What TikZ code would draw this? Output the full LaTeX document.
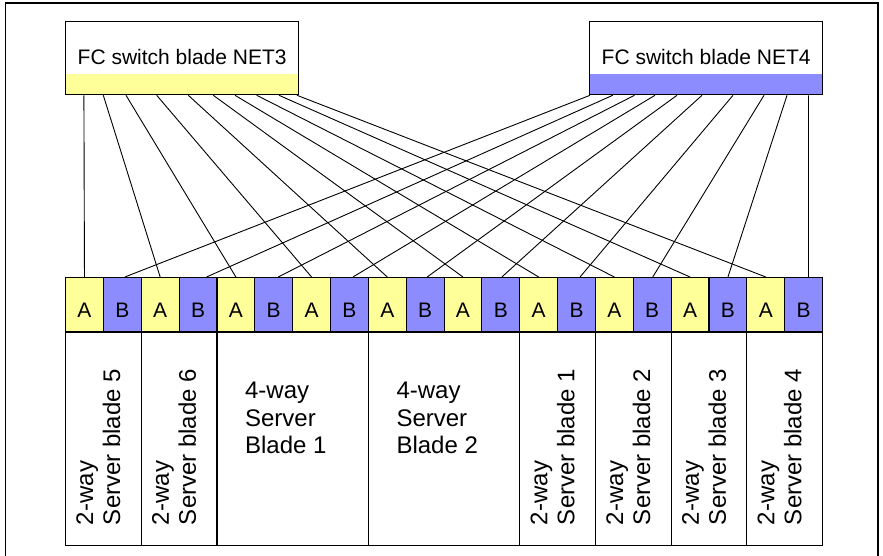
\documentclass[tikz,border=0pt]{standalone}
\usepackage{fontspec}
\setmainfont{Liberation Sans}
\definecolor{portyellow}{RGB}{255,255,153}
\definecolor{portblue}{RGB}{140,140,255}
\begin{document}
\begin{tikzpicture}[x=1pt,y=-1pt,
  frame/.style={line width=1.3pt},
  wire/.style={line width=0.9pt},
  swbox/.style={draw, line width=1.3pt, minimum width=233pt, minimum height=73pt, inner sep=0pt, anchor=north west},
  swlbl/.style={anchor=base, inner sep=0pt, font=\fontsize{21}{25}\selectfont},
  portcell/.style={draw, line width=1.1pt, minimum width=37.85pt, minimum height=54pt, inner sep=0pt, anchor=north west},
  portlbl/.style={anchor=base, inner sep=0pt, font=\fontsize{21}{25}\selectfont},
  bladecell/.style={draw, line width=1.1pt, minimum height=213pt, inner sep=0pt, anchor=north west},
  vlbl/.style={rotate=90, anchor=west, align=left, inner sep=0pt, font=\fontsize{24}{27}\selectfont},
  hlbl/.style={anchor=north west, align=left, inner sep=0pt, font=\fontsize{24}{27.5}\selectfont}
]
\useasboundingbox (0,0) rectangle (883,556);
\draw[frame] (5.5,556) -- (5.5,3) -- (878,3) -- (878,556);

% switch blades
\node[swbox, path picture={\fill[portyellow] (path picture bounding box.south west) rectangle ([yshift=21pt]path picture bounding box.south east);}] (net3) at (65,21) {};
\node[swbox, path picture={\fill[portblue] (path picture bounding box.south west) rectangle ([yshift=21pt]path picture bounding box.south east);}] (net4) at (589,21) {};
\node[swlbl] (net3lbl) at ([yshift=30.7pt]net3.south) {FC switch blade NET3};
\node[swlbl] (net4lbl) at ([yshift=30.7pt]net4.south) {FC switch blade NET4};

% ports
\foreach \i in {0,2,...,18} \node[portcell, fill=portyellow] (p\i) at ({65+37.85*\i},277) {};
\foreach \i in {1,3,...,19} \node[portcell, fill=portblue] (p\i) at ({65+37.85*\i},277) {};
\foreach \i in {0,2,...,18} \node[portlbl] (l\i) at ([yshift=14.3pt]p\i.south) {A};
\foreach \i in {1,3,...,19} \node[portlbl] (l\i) at ([yshift=14.3pt]p\i.south) {B};

% connectors NET3 -> A ports
\foreach \a/\i in {18.9/0, 38.3/2, 61/4, 91.7/6, 123.3/8, 148.3/10, 170/12, 191.7/14, 214/16, 232/18}
  \draw[wire] ([xshift=\a pt]net3.south west) -- (p\i.north);
% connectors NET4 -> B ports
\foreach \a/\i/\b in {1/1/22, 23.7/3/28, 45.5/5/24, 66/7/23, 88/9/21.5, 113/11/20.5, 144/13/23, 175/15/20, 198/17/19.5, 219.5/19/24.3}
  \draw[wire] ([xshift=\a pt]net4.south west) -- ([xshift=\b pt]p\i.north west);

% server blades
\node[bladecell, minimum width=75.7pt] (bl5) at (p0.south west) {};
\node[bladecell, minimum width=75.7pt] (bl6) at (p2.south west) {};
\node[bladecell, minimum width=151.4pt] (fw1) at (p4.south west) {};
\node[bladecell, minimum width=151.4pt] (fw2) at (p8.south west) {};
\node[bladecell, minimum width=75.7pt] (bl1) at (p12.south west) {};
\node[bladecell, minimum width=75.7pt] (bl2) at (p14.south west) {};
\node[bladecell, minimum width=75.7pt] (bl3) at (p16.south west) {};
\node[bladecell, minimum width=75.7pt] (bl4) at (p18.south west) {};

\node[vlbl] (t5) at ([xshift=-5pt,yshift=21pt]bl5.south) {2-way\\Server blade 5};
\node[vlbl] (t6) at ([xshift=-5pt,yshift=21pt]bl6.south) {2-way\\Server blade 6};
\node[vlbl] (t1) at ([xshift=-5pt,yshift=21pt]bl1.south) {2-way\\Server blade 1};
\node[vlbl] (t2) at ([xshift=-5pt,yshift=21pt]bl2.south) {2-way\\Server blade 2};
\node[vlbl] (t3) at ([xshift=-5pt,yshift=21pt]bl3.south) {2-way\\Server blade 3};
\node[vlbl] (t4) at ([xshift=-5pt,yshift=21pt]bl4.south) {2-way\\Server blade 4};
\node[hlbl] (f1) at ([xshift=28.5pt,yshift=-50pt]fw1.north west) {4-way\\Server\\Blade 1};
\node[hlbl] (f2) at ([xshift=28.5pt,yshift=-50pt]fw2.north west) {4-way\\Server\\Blade 2};
\end{tikzpicture}
\end{document}
